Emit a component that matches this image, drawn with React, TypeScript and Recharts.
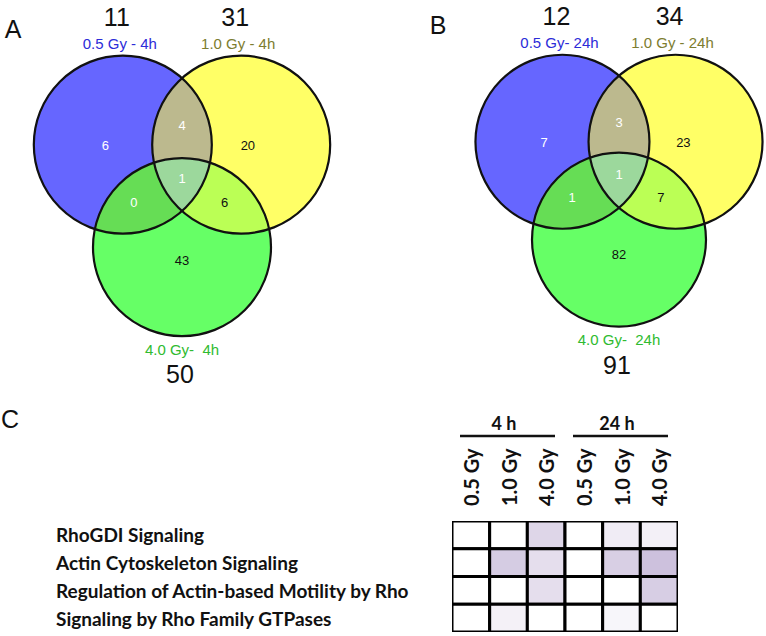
import React from "react";
import { ScatterChart, Scatter, XAxis, YAxis } from "recharts";

// Panel A: 4 h Venn
const setNames4h = ["0.5 Gy - 4h", "1.0 Gy - 4h", "4.0 Gy-  4h"];
const setTotals4h = [11, 31, 50];
// region order: 0.5 only, 0.5∩1.0, 1.0 only, all three, 0.5∩4.0, 1.0∩4.0, 4.0 only
const regionCounts4h = [6, 4, 20, 1, 0, 6, 43];

// Panel B: 24 h Venn
const setNames24h = ["0.5 Gy- 24h", "1.0 Gy - 24h", "4.0 Gy-  24h"];
const setTotals24h = [12, 34, 91];
const regionCounts24h = [7, 3, 23, 1, 1, 7, 82];

// Panel C: pathway heatmap
const pathways = [
  "RhoGDI Signaling",
  "Actin Cytoskeleton Signaling",
  "Regulation of Actin-based Motility by Rho",
  "Signaling by Rho Family GTPases",
];
const timeGroups = ["4 h", "24 h"];
const doses = ["0.5 Gy", "1.0 Gy", "4.0 Gy"];
const rhoGdiScores = [0, 0, 0.39, 0, 0.18, 0.14];
const actinScores = [0, 0.49, 0.31, 0, 0.46, 0.59];
const regulationScores = [0, 0, 0.31, 0, 0, 0.47];
const rhoGtpaseScores = [0, 0.13, 0, 0, 0.09, 0];

const VENN_FONT = "'Liberation Sans', Arial, sans-serif";
const HEAT_FONT = "Lato, 'Open Sans', sans-serif";

const setFills = ["#6666ff", "#ffff66", "#66ff66"];
const setTextColors = ["#2c2cd8", "#7d7d30", "#30bb30"];
// overlap fills: [clip circle, drawn circle, colour]
const pairFills: [number, number, string][] = [
  [0, 1, "#bcb98e"],
  [0, 2, "#66dd55"],
  [1, 2, "#bbff55"],
];
const tripleFill = "#9cd89c";

// where each region's count sits, in circle-radius units around the centroid
const regionSpots = [
  [-0.86, 0.37],
  [0, 0.6],
  [0.74, 0.37],
  [0, 0],
  [-0.54, -0.27],
  [0.48, -0.27],
  [0, -0.92],
];
const darkRegions = [2, 5, 6];

const Y_TOP = 2.2;
const Y_BOTTOM = -2.5;

type VennProps = {
  id: string;
  names: string[];
  totals: number[];
  counts: number[];
  spread: number;
  centerX: number;
  centerY: number;
  unitPx: number;
};

const Venn: React.FC<VennProps> = ({ id, names, totals, counts, spread, centerX, centerY, unitPx }) => {
  const h = (spread * Math.sqrt(3)) / 2;
  const sets = [
    { x: -spread / 2, y: h / 3, i: 0 },
    { x: spread / 2, y: h / 3, i: 1 },
    { x: 0, y: (-2 * h) / 3, i: 2 },
  ];
  const pairs = pairFills.map(([a, b, color]) => ({ x: sets[b].x, y: sets[b].y, a, color }));
  const triple = [{ x: sets[2].x, y: sets[2].y }];
  const regions = counts.map((n, i) => ({ x: regionSpots[i][0], y: regionSpots[i][1], n, i }));
  const R = unitPx;

  return (
    <div style={{ position: "absolute", left: centerX - 2 * unitPx, top: centerY - Y_TOP * unitPx }}>
      <ScatterChart
        width={4 * unitPx}
        height={(Y_TOP - Y_BOTTOM) * unitPx}
        margin={{ top: 0, right: 0, bottom: 0, left: 0 }}
      >
        <XAxis type="number" dataKey="x" domain={[-2, 2]} hide allowDataOverflow />
        <YAxis type="number" dataKey="y" domain={[Y_BOTTOM, Y_TOP]} hide allowDataOverflow />
        <Scatter
          data={sets}
          isAnimationActive={false}
          shape={(p: any) => (
            <g>
              <defs>
                <clipPath id={`${id}-c${p.payload.i}`}>
                  <circle cx={p.cx} cy={p.cy} r={R} />
                </clipPath>
              </defs>
              <circle cx={p.cx} cy={p.cy} r={R} fill={setFills[p.payload.i]} />
            </g>
          )}
        />
        <Scatter
          data={pairs}
          isAnimationActive={false}
          shape={(p: any) => (
            <g clipPath={`url(#${id}-c${p.payload.a})`}>
              <circle cx={p.cx} cy={p.cy} r={R} fill={p.payload.color} />
            </g>
          )}
        />
        <Scatter
          data={triple}
          isAnimationActive={false}
          shape={(p: any) => (
            <g clipPath={`url(#${id}-c0)`}>
              <g clipPath={`url(#${id}-c1)`}>
                <circle cx={p.cx} cy={p.cy} r={R} fill={tripleFill} />
              </g>
            </g>
          )}
        />
        <Scatter
          data={sets}
          isAnimationActive={false}
          shape={(p: any) => {
            const i = p.payload.i;
            const bottom = i === 2;
            const nameY = bottom ? p.cy + R + 13 : p.cy - R - 12;
            const totalY = bottom ? p.cy + R + 38 : p.cy - R - 39;
            return (
              <g>
                <circle cx={p.cx} cy={p.cy} r={R} fill="none" stroke="#111" strokeWidth={2.2} />
                <text
                  x={bottom ? p.cx : p.cx - 3}
                  y={nameY}
                  textAnchor="middle"
                  dominantBaseline="central"
                  fontFamily={VENN_FONT}
                  fontSize={15}
                  fill={setTextColors[i]}
                  style={{ whiteSpace: "pre" }}
                >
                  {names[i]}
                </text>
                <text
                  x={bottom ? p.cx - 2 : p.cx - 6}
                  y={totalY}
                  textAnchor="middle"
                  dominantBaseline="central"
                  fontFamily={VENN_FONT}
                  fontSize={25}
                  fill="#111"
                >
                  {totals[i]}
                </text>
              </g>
            );
          }}
        />
        <Scatter
          data={regions}
          isAnimationActive={false}
          shape={(p: any) => (
            <text
              x={p.cx}
              y={p.cy}
              textAnchor="middle"
              dominantBaseline="central"
              fontFamily={VENN_FONT}
              fontSize={13}
              fill={darkRegions.includes(p.payload.i) ? "#111" : "#fff"}
            >
              {p.payload.n}
            </text>
          )}
        />
      </ScatterChart>
    </div>
  );
};

// heatmap geometry
const HEAT_W = 766;
const HEAT_H = 236;
const HEAT_MARGIN = { top: 0, right: 88, bottom: 4, left: 0 };
const LABEL_AXIS_W = 452;
const COL_AXIS_H = 121;
const COL_W = (HEAT_W - HEAT_MARGIN.right - LABEL_AXIS_W) / 6;
const ROW_H = (HEAT_H - COL_AXIS_H - HEAT_MARGIN.bottom) / 4;

const cellColor = (v: number) => {
  const mix = (hi: number) => Math.round(255 - v * (255 - hi));
  return `rgb(${mix(170)},${mix(150)},${mix(197)})`;
};

const heatCells = [rhoGdiScores, actinScores, regulationScores, rhoGtpaseScores].flatMap((row, r) =>
  row.map((v, c) => ({ x: c, y: r, v }))
);

const ColumnTick = (p: any) => {
  const col = p.payload.value as number;
  const first = col % doses.length === 0;
  return (
    <g>
      {first && (
        <g>
          <text
            x={p.x + COL_W * 0.88}
            y={23}
            textAnchor="middle"
            dominantBaseline="central"
            fontFamily={HEAT_FONT}
            fontWeight={700}
            fontSize={18}
            fill="#111"
          >
            {timeGroups[col / doses.length]}
          </text>
          <line
            x1={p.x - COL_W / 2 + 8}
            x2={p.x + COL_W * 2.5 - 10}
            y1={36}
            y2={36}
            stroke="#111"
            strokeWidth={2.5}
          />
        </g>
      )}
      <text
        transform={`translate(${p.x},106) rotate(-90)`}
        textAnchor="start"
        dominantBaseline="central"
        fontFamily={HEAT_FONT}
        fontWeight={700}
        fontSize={20}
        fill="#111"
      >
        {doses[col % doses.length]}
      </text>
    </g>
  );
};

const RowTick = (p: any) => (
  <text
    x={56}
    y={p.y}
    textAnchor="start"
    dominantBaseline="central"
    fontFamily={HEAT_FONT}
    fontWeight={700}
    fontSize={19}
    fill="#111"
  >
    {pathways[p.payload.value]}
  </text>
);

const Heatmap: React.FC = () => (
  <div style={{ position: "absolute", left: 0, top: 400 }}>
    <ScatterChart width={HEAT_W} height={HEAT_H} margin={HEAT_MARGIN}>
      <XAxis
        type="number"
        dataKey="x"
        orientation="top"
        domain={[-0.5, 5.5]}
        ticks={[0, 1, 2, 3, 4, 5]}
        height={COL_AXIS_H}
        axisLine={false}
        tickLine={false}
        tick={ColumnTick}
        allowDataOverflow
      />
      <YAxis
        type="number"
        dataKey="y"
        reversed
        domain={[-0.5, 3.5]}
        ticks={[0, 1, 2, 3]}
        width={LABEL_AXIS_W}
        axisLine={false}
        tickLine={false}
        tick={RowTick}
        allowDataOverflow
      />
      <Scatter
        data={heatCells}
        isAnimationActive={false}
        shape={(p: any) => (
          <rect
            x={p.cx - COL_W / 2}
            y={p.cy - ROW_H / 2}
            width={COL_W}
            height={ROW_H}
            fill={cellColor(p.payload.v)}
            stroke="#000"
            strokeWidth={3}
          />
        )}
      />
    </ScatterChart>
  </div>
);

const panelLetters = [
  { t: "A", x: 13, y: 29 },
  { t: "B", x: 438, y: 25 },
  { t: "C", x: 10, y: 419 },
];

export default function App() {
  return (
    <div style={{ position: "absolute", left: 0, top: 0, width: 766, height: 636, background: "#fff" }}>
      <Venn id="v4" names={setNames4h} totals={setTotals4h} counts={regionCounts4h} spread={1.33} centerX={182} centerY={179} unitPx={89} />
      <Venn id="v24" names={setNames24h} totals={setTotals24h} counts={regionCounts24h} spread={1.3} centerX={619} centerY={174} unitPx={87} />
      <Heatmap />
      <svg width={766} height={636} style={{ position: "absolute", left: 0, top: 0, pointerEvents: "none" }}>
        {panelLetters.map((l) => (
          <text key={l.t} x={l.x} y={l.y} textAnchor="middle" dominantBaseline="central" fontFamily={VENN_FONT} fontSize={25} fill="#111">
            {l.t}
          </text>
        ))}
      </svg>
    </div>
  );
}
